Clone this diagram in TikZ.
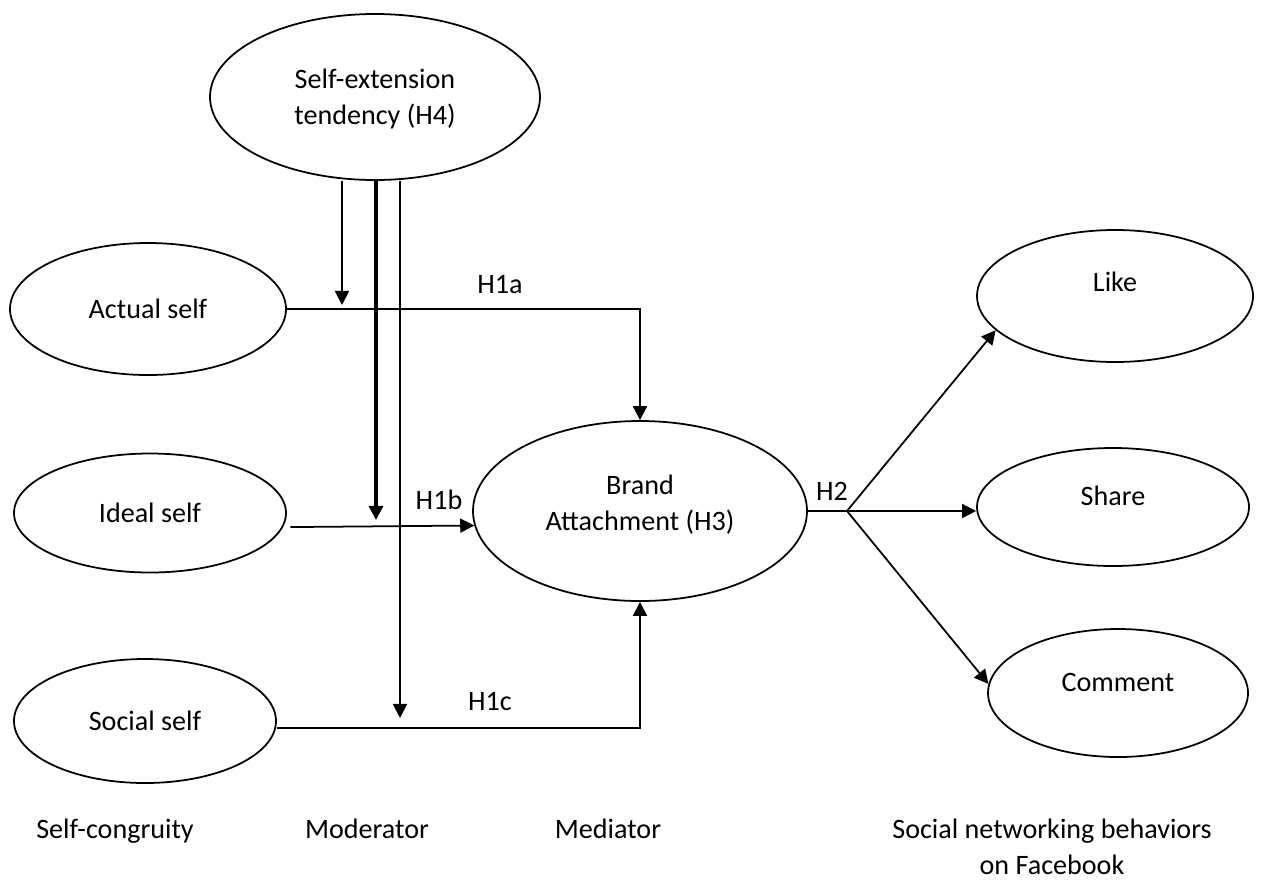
\documentclass[tikz,border=0pt]{standalone}
\usepackage{fontspec}
\setmainfont{Carlito}
\usetikzlibrary{arrows.meta, shapes.geometric}

\begin{document}
\begin{tikzpicture}[
        construct/.style={draw, ellipse, line width=1pt, inner sep=0pt,
                          align=center},
        link/.style={line width=1pt},
        caption/.style={text height=11.5pt, text depth=4pt},
        font=\fontsize{16}{20.4}\selectfont,
        >={Triangle[length=8pt, width=8pt]}
    ]
        \useasboundingbox (0,0) rectangle (25.44,-17.6);

        % moderator
        \node[construct, minimum width=6.6cm, minimum height=3.32cm, text depth=0pt] (ext) at (7.5,-1.94) {Self-extension\\tendency (H4)};

        % self-congruity
        \node[construct, minimum width=5.52cm, minimum height=2.64cm] (actual) at (2.96,-6.18) {Actual self};
        \node[construct, minimum width=5.44cm, minimum height=2.38cm] (ideal) at (3.0,-10.26) {Ideal self};
        \node[construct, minimum width=5.24cm, minimum height=2.48cm] (social) at (2.9,-14.42) {Social self};

        % mediator
        \node[construct, minimum width=6.68cm, minimum height=3.6cm, text depth=9pt] (brand) at (12.8,-10.22) {Brand\\Attachment (H3)};

        % behaviors
        \node[construct, minimum width=5.52cm, minimum height=2.64cm, text depth=16.7pt] (like) at (22.3,-5.92) {Like};
        \node[construct, minimum width=5.44cm, minimum height=2.36cm, text depth=13pt] (share) at (22.26,-10.14) {Share};
        \node[construct, minimum width=5.2cm, minimum height=2.56cm, text depth=12pt] (comment) at (22.36,-13.86) {Comment};

        \coordinate (ta) at (6.84,-6.1);
        \coordinate (tb) at (7.52,-10.4);
        \coordinate (tc) at (8.0,-14.36);
        \coordinate (fork) at (16.94,-10.22);

        \draw[link, ->] (actual.east) -- (actual.east -| brand.north) -- (brand.north);
        \draw[link, ->] ([xshift=2pt, yshift=-8pt]ideal.east) -- (brand.185);
        \draw[link, ->] ([yshift=-4pt]social.east) -- ([yshift=-4pt]social.east -| brand.south) -- (brand.south);

        \draw[link, ->] (ext.south -| ta) -- (ta);
        \draw[link, line width=1.8pt, ->] (ext.south -| tb) -- (tb);
        \draw[link, ->] (ext.south -| tc) -- (tc);

        \draw[link] (brand.east) -- (fork);
        \draw[link, ->] (fork) -- (like.196);
        \draw[link, ->] (fork) -- (fork -| share.west);
        \draw[link, ->] (fork) -- (comment.176);

        \node (h1a) at (10.0,-5.7) {H1a};
        \node (h1b) at (8.78,-10.0) {H1b};
        \node (h1c) at (9.8,-14.04) {H1c};
        \node (h2) at (16.64,-9.82) {H2};

        \node[caption] (congr) at (2.3,-16.64) {Self-congruity};
        \node[caption] (moder) at (7.34,-16.64) {Moderator};
        \node[caption] (media) at (12.16,-16.64) {Mediator};
        \node[align=center] (snb) at (21.04,-16.94) {Social networking behaviors\\on Facebook};
    \end{tikzpicture}
\end{document}
